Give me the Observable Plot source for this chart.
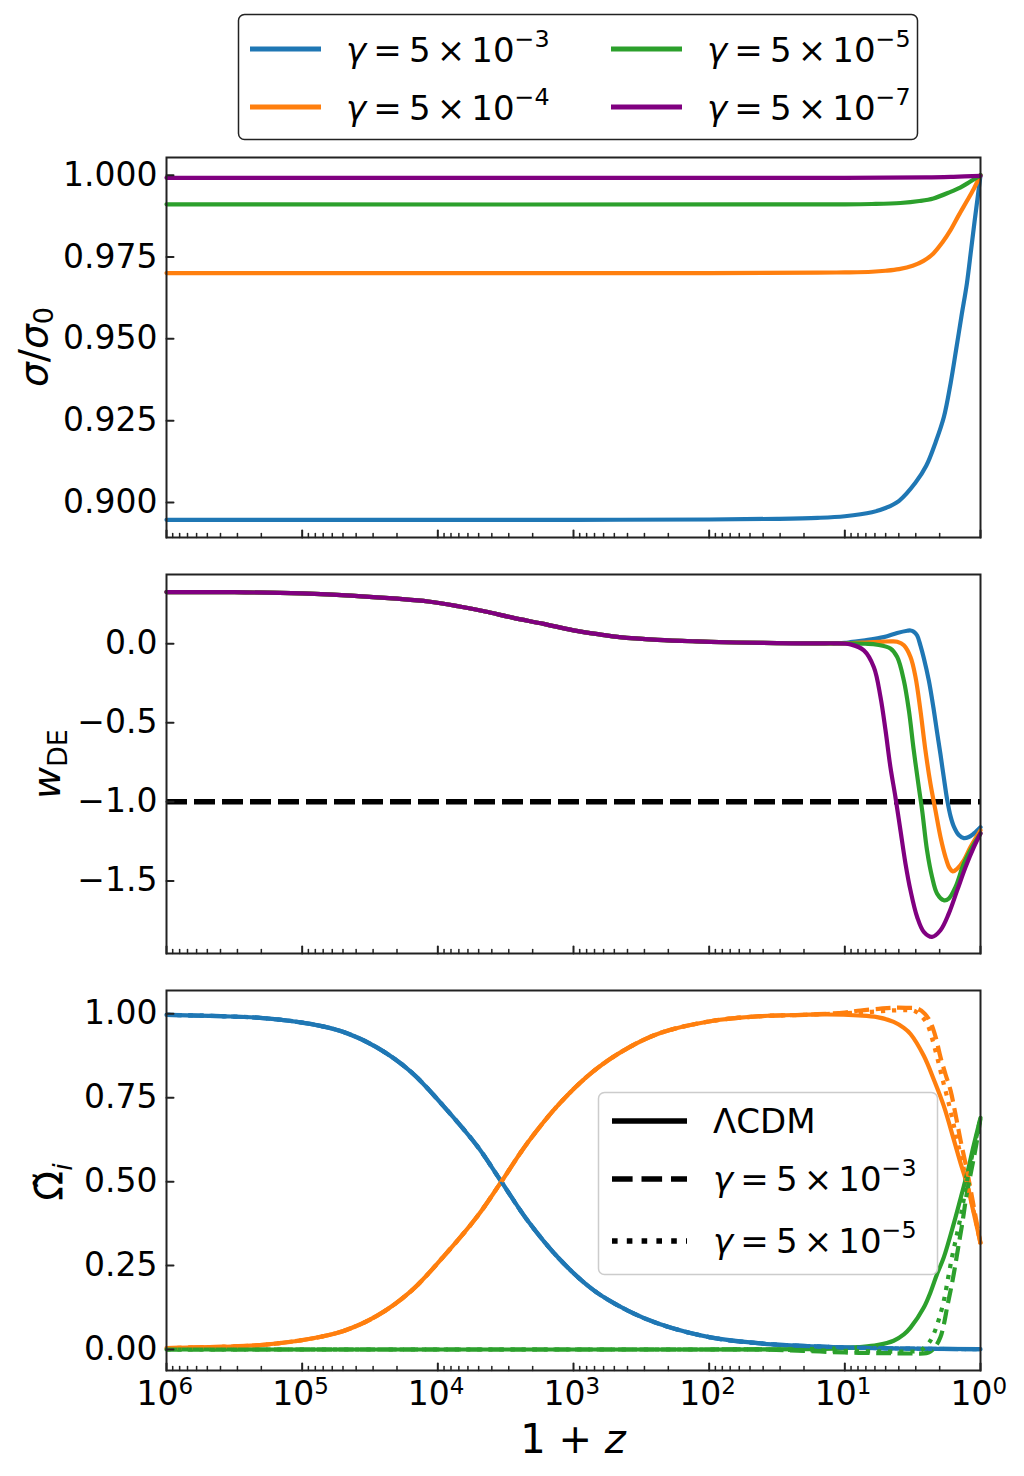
<!DOCTYPE html>
<html><head><meta charset="utf-8">
<script src="https://cdn.jsdelivr.net/npm/d3@7"></script>
<script src="https://cdn.jsdelivr.net/npm/@observablehq/plot@0.6"></script>
<style>
body{margin:0;background:#fff;}
#fig{position:relative;width:1024px;height:1476px;background:#fff;overflow:hidden;font-family:"DejaVu Sans";color:#000;}
</style></head><body><div id="fig"></div>
<script>
// ---- data: [log10(1+z), value] ----
const xMajor = [1e6, 1e5, 1e4, 1e3, 1e2, 1e1, 1e0];
const xMinor = [];
for (let k = 0; k < 6; k++) for (let m = 2; m <= 9; m++) xMinor.push(m * 10 ** k);

const gammaExps = ["3", "4", "5", "7"];
const lcdmLegend = ["ΛCDM", "3", "5"];

// panel 1: sigma / sigma0
const sigTicks = [0.900, 0.925, 0.950, 0.975, 1.000];
const sigBlue = [[6,0.8947],[4,0.8947],[3,0.8947],[2,0.8948],[1.5,0.895],[1.2,0.8953],[1.0,0.8958],[0.8,0.8970],[0.7,0.8983],[0.6,0.9005],[0.48,0.906],[0.4,0.9112],[0.33,0.9185],[0.27,0.9261],[0.22,0.9365],[0.18,0.9466],[0.14,0.957],[0.10,0.967],[0.07,0.977],[0.044,0.9858],[0.02,0.9935],[0,1.0]];
const sigOrange = [[6,0.9701],[2,0.9701],[1.2,0.9702],[1.0,0.9703],[0.8,0.9705],[0.7,0.9708],[0.6,0.9713],[0.5,0.9723],[0.42,0.9738],[0.347,0.9761],[0.28,0.9795],[0.221,0.9832],[0.16,0.9878],[0.096,0.9924],[0.05,0.9958],[0.022,0.9981],[0,1.0]];
const sigGreen = [[6,0.9911],[1.0,0.9911],[0.8,0.9912],[0.59,0.9915],[0.45,0.9921],[0.347,0.9929],[0.221,0.9949],[0.15,0.9962],[0.096,0.9975],[0.05,0.9987],[0,1.0]];
const sigPurple = [[6,0.9992],[1,0.9992],[0.4,0.9993],[0.2,0.9995],[0,0.9998]];

// panel 2: w_DE
const wTicks = [-1.5, -1.0, -0.5, 0.0];
const wLambda = [-1];
const wEarly = [[6,0.327],[5.5,0.326],[5.0,0.318],[4.64,0.305],[4.3,0.285],[4.07,0.267],[3.85,0.237],[3.65,0.204],[3.45,0.165],[3.22,0.126],[3.0,0.085],[2.8,0.058],[2.66,0.042],[2.38,0.025],[2.09,0.015],[1.8,0.008],[1.5,0.004],[1.2,0.002]];
const wBlueLate = [[1.0,0.005],[0.958,0.01],[0.85,0.022],[0.713,0.042],[0.614,0.068],[0.54,0.082],[0.516,0.084],[0.492,0.076],[0.467,0.052],[0.443,-0.01],[0.418,-0.09],[0.381,-0.232],[0.344,-0.421],[0.32,-0.56],[0.295,-0.70],[0.271,-0.843],[0.246,-0.985],[0.221,-1.09],[0.197,-1.155],[0.16,-1.21],[0.123,-1.229],[0.086,-1.222],[0.049,-1.2],[0,-1.16]];
const wOrangeLate = [[1.0,0.003],[0.85,0.008],[0.713,0.014],[0.65,0.015],[0.614,0.012],[0.565,-0.01],[0.516,-0.084],[0.479,-0.211],[0.443,-0.421],[0.406,-0.674],[0.369,-0.885],[0.332,-1.054],[0.295,-1.222],[0.258,-1.349],[0.229,-1.418],[0.204,-1.44],[0.172,-1.423],[0.123,-1.37],[0.074,-1.286],[0,-1.18]];
const wGreenLate = [[1.1,0.002],[0.958,0.003],[0.85,0.0],[0.762,-0.006],[0.664,-0.03],[0.614,-0.084],[0.565,-0.232],[0.528,-0.421],[0.492,-0.674],[0.455,-0.906],[0.43,-1.054],[0.394,-1.307],[0.357,-1.475],[0.32,-1.58],[0.271,-1.622],[0.234,-1.612],[0.184,-1.538],[0.123,-1.391],[0.061,-1.286],[0,-1.2]];
const wPurpleLate = [[1.082,0.003],[0.958,-0.004],[0.86,-0.042],[0.786,-0.148],[0.737,-0.337],[0.7,-0.548],[0.664,-0.78],[0.627,-0.97],[0.59,-1.18],[0.553,-1.39],[0.516,-1.56],[0.467,-1.728],[0.418,-1.822],[0.357,-1.854],[0.295,-1.812],[0.234,-1.707],[0.172,-1.56],[0.11,-1.412],[0.049,-1.286],[0,-1.2]];

// panel 3: density parameters
const omTicks = [0, 0.25, 0.5, 0.75, 1.0];
const omRad = [[6,0.997],[5.6,0.993],[5.31,0.988],[4.94,0.97],[4.69,0.945],[4.45,0.90],[4.2,0.828],[3.96,0.726],[3.71,0.606],[3.54,0.505],[3.34,0.385],[3.1,0.268],[2.85,0.176],[2.6,0.116],[2.36,0.075],[1.99,0.036],[1.62,0.018],[1.13,0.008],[0.6,0.003],[0,0.001]];
const omMatEarly = [[6,0.004],[5.6,0.008],[5.31,0.013],[4.94,0.032],[4.69,0.056],[4.45,0.10],[4.2,0.173],[3.96,0.276],[3.71,0.396],[3.54,0.495],[3.34,0.615],[3.1,0.734],[2.85,0.83],[2.6,0.898],[2.36,0.943],[1.99,0.978],[1.62,0.993],[1.3,0.997]];
const omMatLCDM = [[1.13,0.998],[0.9,0.995],[0.762,0.99],[0.64,0.976],[0.565,0.958],[0.516,0.94],[0.418,0.875],[0.34,0.8],[0.27,0.725],[0.197,0.625],[0.147,0.555],[0.098,0.49],[0.049,0.405],[0,0.318]];
const omMatG3 = [[1.0,1.004],[0.885,1.01],[0.75,1.015],[0.66,1.018],[0.55,1.018],[0.46,1.015],[0.41,1.0],[0.369,0.975],[0.33,0.93],[0.295,0.871],[0.258,0.82],[0.221,0.772],[0.184,0.70],[0.147,0.623],[0.098,0.53],[0.049,0.424],[0,0.315]];
const omMatG5 = [[1.0,1.002],[0.8,1.006],[0.65,1.01],[0.54,1.011],[0.49,1.009],[0.44,0.995],[0.393,0.97],[0.356,0.925],[0.32,0.871],[0.283,0.81],[0.246,0.752],[0.209,0.69],[0.172,0.623],[0.135,0.56],[0.098,0.494],[0.049,0.41],[0,0.315]];
const omDEEarly = [[6,0.0],[4,0.0],[2,0.0]];
const omDELCDM = [[1.3,0.001],[1.0,0.004],[0.9,0.007],[0.762,0.013],[0.64,0.026],[0.565,0.045],[0.516,0.065],[0.418,0.125],[0.369,0.17],[0.32,0.225],[0.27,0.275],[0.197,0.375],[0.147,0.45],[0.098,0.525],[0.049,0.61],[0,0.69]];
const omDEG3 = [[1.6,0.0],[1.3,-0.004],[1.0,-0.009],[0.7,-0.011],[0.49,-0.012],[0.40,-0.011],[0.369,-0.006],[0.33,0.01],[0.295,0.037],[0.27,0.075],[0.246,0.126],[0.221,0.175],[0.197,0.225],[0.166,0.30],[0.135,0.374],[0.105,0.455],[0.074,0.52],[0.045,0.58],[0.025,0.625],[0,0.69]];
const omDEG5 = [[1.6,0.0],[1.0,-0.004],[0.7,-0.006],[0.5,-0.006],[0.44,-0.003],[0.418,0.004],[0.38,0.02],[0.344,0.047],[0.307,0.09],[0.27,0.146],[0.24,0.21],[0.21,0.275],[0.178,0.335],[0.147,0.394],[0.116,0.465],[0.086,0.53],[0.05,0.60],[0.024,0.645],[0,0.69]];

// ---- styles ----
const C = {blue: "#1f77b4", orange: "#ff7f0e", green: "#2ca02c", purple: "#800080"};
const DASH = "15,6.5", DOT = "4.2,6.9";
const TICKFS = 33;
const fig = document.getElementById("fig");
const tickShape = {draw(ctx, l) { ctx.moveTo(0, 0); ctx.lineTo(0, -l); }};

function L(arr, color, dash) {
  return Plot.line(arr, {x: d => 10 ** d[0], y: d => d[1], stroke: color, strokeWidth: 4.2,
    strokeDasharray: dash, strokeLinecap: dash ? "butt" : "round", curve: "catmull-rom"});
}

function panel({top, height, mt, mb, yDomain, yTicks, yFmt, marks, xLabels}) {
  const extra = xLabels ? [
    Plot.text(xMajor, {x: d => d, frameAnchor: "bottom", text: () => "10", textAnchor: "end", lineAnchor: "top", dx: 12, dy: 11, fontSize: TICKFS}),
    Plot.text(xMajor, {x: d => d, frameAnchor: "bottom", text: d => String(Math.round(Math.log10(d))), textAnchor: "start", lineAnchor: "top", dx: 12, dy: 7, fontSize: 23})
  ] : [];
  const svg = Plot.plot({
    width: 1024, height, marginLeft: 166, marginRight: 44, marginTop: mt, marginBottom: mb,
    style: {fontFamily: "DejaVu Sans", fontSize: TICKFS + "px", color: "#000", background: "transparent", overflow: "visible"},
    x: {type: "log", domain: [1e6, 1], axis: null},
    y: {domain: yDomain},
    marks: [
      ...marks,
      Plot.frame({stroke: "#222", strokeWidth: 2}),
      Plot.axisY(yTicks, {anchor: "left", tickSize: 0, tickPadding: 9, tickFormat: d3.format(yFmt), fontSize: TICKFS, label: null}),
      Plot.vector(yTicks, {y: d => d, frameAnchor: "left", rotate: 90, length: 7, anchor: "start", shape: tickShape, stroke: "#222", strokeWidth: 2}),
      Plot.vector(xMajor, {x: d => d, frameAnchor: "bottom", rotate: 0, length: 7, anchor: "start", shape: tickShape, stroke: "#222", strokeWidth: 2}),
      Plot.vector(xMinor, {x: d => d, frameAnchor: "bottom", rotate: 0, length: 4, anchor: "start", shape: tickShape, stroke: "#222", strokeWidth: 1.5}),
      ...extra
    ]
  });
  svg.style.position = "absolute";
  svg.style.left = "0px";
  svg.style.top = top + "px";
  fig.appendChild(svg);
}

panel({top: 145, height: 410, mt: 12, mb: 18, yDomain: [0.8893, 1.0054], yTicks: sigTicks, yFmt: ".3f",
  marks: [L(sigBlue, C.blue), L(sigOrange, C.orange), L(sigGreen, C.green), L(sigPurple, C.purple)]});

panel({top: 555, height: 416, mt: 19, mb: 18, yDomain: [-1.959, 0.438], yTicks: wTicks, yFmt: ".1f",
  marks: [
    Plot.ruleY(wLambda, {stroke: "#000", strokeWidth: 5.5, strokeDasharray: "21,7"}),
    L([...wEarly, ...wBlueLate], C.blue), L([...wEarly, ...wOrangeLate], C.orange),
    L([...wEarly, ...wGreenLate], C.green), L([...wEarly, ...wPurpleLate], C.purple)]});

panel({top: 971, height: 505, mt: 19, mb: 106, yDomain: [-0.0626, 1.0695], yTicks: omTicks, yFmt: ".2f", xLabels: true,
  marks: [
    L(omRad, C.blue), L([...omMatEarly, ...omMatLCDM], C.orange), L([...omDEEarly, ...omDELCDM], C.green),
    L(omRad, C.blue, DASH), L([...omMatEarly, ...omMatG3], C.orange, DASH), L([...omDEEarly, ...omDEG3], C.green, DASH),
    L(omRad, C.blue, DOT), L([...omMatEarly, ...omMatG5], C.orange, DOT), L([...omDEEarly, ...omDEG5], C.green, DOT)]});

// ---- overlay: legends and axis labels ----
const ov = d3.select(fig).append("svg").attr("width", 1024).attr("height", 1476)
  .style("position", "absolute").style("left", "0px").style("top", "0px")
  .style("font-family", "DejaVu Sans");

function gammaText(x, y, exp, fs) {
  const t = ov.append("text").attr("x", x).attr("y", y).attr("font-size", fs).attr("fill", "#000");
  t.append("tspan").attr("font-style", "italic").text("γ");
  t.append("tspan").attr("dx", 0.21 * fs).text("=");
  t.append("tspan").attr("dx", 0.21 * fs).text("5");
  t.append("tspan").attr("dx", 0.18 * fs).text("×");
  t.append("tspan").attr("dx", 0.18 * fs).text("10");
  t.append("tspan").attr("font-size", fs * 0.7).attr("dy", -0.44 * fs).text("−" + exp);
}

// top legend
ov.append("rect").attr("x", 238.5).attr("y", 14.5).attr("width", 679).attr("height", 125).attr("rx", 6)
  .attr("fill", "#fff").attr("stroke", "#222").attr("stroke-width", 1.5);
const topCols = [C.blue, C.orange, C.green, C.purple];
const topPos = [[250, 49], [250, 107], [611, 49], [611, 107]];
gammaExps.forEach((e, i) => {
  const [x, y] = topPos[i];
  ov.append("line").attr("x1", x).attr("x2", x + 71).attr("y1", y).attr("y2", y)
    .attr("stroke", topCols[i]).attr("stroke-width", 5);
  gammaText(x + 96, y + 13, e, 34);
});

// bottom legend
ov.append("rect").attr("x", 598.5).attr("y", 1092.5).attr("width", 339).attr("height", 182).attr("rx", 6)
  .attr("fill", "#fff").attr("fill-opacity", 0.8).attr("stroke", "#cccccc").attr("stroke-width", 1.5);
const botDash = [null, "20.6,8.9", "5.6,9.2"];
const botY = [1121, 1179, 1241];
lcdmLegend.forEach((lab, i) => {
  const ln = ov.append("line").attr("x1", 612).attr("x2", 687).attr("y1", botY[i]).attr("y2", botY[i])
    .attr("stroke", "#000").attr("stroke-width", 5.6);
  if (botDash[i]) ln.attr("stroke-dasharray", botDash[i]);
  if (i === 0) ov.append("text").attr("x", 713).attr("y", botY[i] + 12).attr("font-size", 34).text(lab);
  else gammaText(713, botY[i] + 12, lab, 34);
});

// y labels
function ylab(x, y, build) {
  const t = ov.append("text").attr("transform", `translate(${x},${y}) rotate(-90)`)
    .attr("text-anchor", "middle").attr("font-size", 39).attr("fill", "#000");
  build(t);
}
ylab(47, 347, t => {
  t.append("tspan").attr("font-style", "italic").text("σ");
  t.append("tspan").text("/");
  t.append("tspan").attr("font-style", "italic").text("σ");
  t.append("tspan").attr("font-size", 27).attr("dy", 6).text("0");
});
ylab(60, 764, t => {
  t.append("tspan").attr("font-style", "italic").text("w");
  t.append("tspan").attr("font-size", 27).attr("dy", 7).text("DE");
});
ylab(63, 1182, t => {
  t.append("tspan").text("Ω\u0303");
  t.append("tspan").attr("font-size", 27).attr("font-style", "italic").attr("dy", 9).text("i");
});

// x label
const xl = ov.append("text").attr("x", 573).attr("y", 1453).attr("text-anchor", "middle").attr("font-size", 40);
xl.append("tspan").text("1 + ");
xl.append("tspan").attr("font-style", "italic").text("z");
</script></body></html>
